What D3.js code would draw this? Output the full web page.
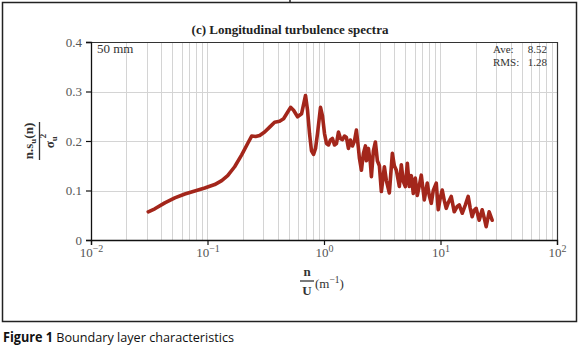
<!DOCTYPE html>
<html><head><meta charset="utf-8">
<script src="https://cdn.jsdelivr.net/npm/d3@7"></script>
<style>body{margin:0;background:#fff;} svg{display:block;}</style>
</head><body>
<svg id="c" width="580" height="351"></svg>
<script>
// ---- data ----
const freq = [0.031,0.0353,0.043,0.0524,0.0639,0.0778,0.0947,0.1153,0.1325,0.149,0.171,0.1965,0.2212,0.2393,0.259,0.2803,0.3093,0.3414,0.3767,0.4158,0.4499,0.4868,0.5166,0.5481,0.593,0.6417,0.694,0.7222,0.7511,0.7812,0.8131,0.8456,0.8797,0.9333,0.971,1.01,1.05,1.093,1.137,1.182,1.23,1.28,1.331,1.385,1.441,1.498,1.558,1.621,1.687,1.754,1.825,1.898,1.975,2.014,2.095,2.179,2.267,2.312,2.405,2.502,2.552,2.655,2.761,2.872,2.988,3.108,3.298,3.43,3.639,3.861,4.016,4.178,4.433,4.611,4.796,4.99,5.191,5.399,5.616,5.842,6.077,6.322,6.577,6.841,7.257,7.699,8.008,8.331,8.667,9.196,9.565,9.952,10.35,10.77,11.2,11.65,12.36,13.12,13.92,14.48,15.36,16.29,17.29,17.98,18.7,19.46,20.24,21.48,22.79,23.7,24.66,26.16,27.75];
const spectrum = [0.057,0.063,0.075,0.085,0.093,0.099,0.105,0.112,0.12,0.13,0.148,0.172,0.195,0.21,0.209,0.211,0.218,0.228,0.238,0.24,0.245,0.258,0.268,0.262,0.249,0.255,0.292,0.262,0.215,0.18,0.173,0.185,0.215,0.268,0.25,0.215,0.195,0.192,0.202,0.205,0.192,0.195,0.218,0.205,0.203,0.21,0.207,0.185,0.202,0.19,0.2,0.222,0.185,0.165,0.141,0.175,0.19,0.16,0.185,0.155,0.128,0.18,0.198,0.16,0.15,0.098,0.148,0.12,0.095,0.175,0.15,0.141,0.108,0.152,0.118,0.108,0.155,0.108,0.13,0.094,0.125,0.09,0.11,0.131,0.081,0.115,0.09,0.074,0.1,0.115,0.061,0.085,0.101,0.08,0.064,0.075,0.088,0.057,0.068,0.071,0.054,0.07,0.088,0.065,0.047,0.06,0.064,0.04,0.061,0.045,0.027,0.057,0.04];
const yTicks = [0, 0.1, 0.2, 0.3, 0.4];
const yTickLabels = ["0", "0.1", "0.2", "0.3", "0.4"];
const xMajor = [0.01, 0.1, 1, 10, 100];
const xExp = ["\u22122", "\u22121", "0", "1", "2"];
const title = "(c) Longitudinal turbulence spectra";
const caseLabel = "50 mm";
const stats = [["Ave:", "8.52"], ["RMS:", "1.28"]];
const caption = ["Figure 1", " Boundary layer characteristics"];

const svg = d3.select("#c");
const L = 91, R = 557, T = 42, B = 240;
const x = d3.scaleLog().domain([0.01, 100]).range([L, R]);
const y = d3.scaleLinear().domain([0, 0.4]).range([B, T]);
const serif = "'Liberation Serif','DejaVu Serif',serif";

// outer frame
svg.append("rect").attr("x", 2.5).attr("y", 2.5).attr("width", 574).attr("height", 319)
  .attr("fill", "none").attr("stroke", "#222").attr("stroke-width", 1.5);
svg.append("line").attr("x1", 290).attr("x2", 290).attr("y1", 0).attr("y2", 2.5)
  .attr("stroke", "#222").attr("stroke-width", 1.5);

// grid
const minor = [];
for (let e = -2; e < 2; e++) for (let k = 1; k <= 9; k++) minor.push(k * Math.pow(10, e));
const g = svg.append("g");
g.selectAll("line.v").data(minor.filter(v => v > 0.01)).join("line")
  .attr("x1", d => Math.round(x(d)) + 0.5).attr("x2", d => Math.round(x(d)) + 0.5)
  .attr("y1", T).attr("y2", B).attr("stroke", "#d4d4d4").attr("stroke-width", 1);
g.selectAll("line.h").data(yTicks.slice(1, 4)).join("line")
  .attr("x1", L).attr("x2", R).attr("y1", d => Math.round(y(d)) + 0.5).attr("y2", d => Math.round(y(d)) + 0.5)
  .attr("stroke", "#d4d4d4").attr("stroke-width", 1);

// plot frame top/right
svg.append("path").attr("d", `M${L},${T + 0.5}H${R + 0.5}V${B}`).attr("fill", "none")
  .attr("stroke", "#333").attr("stroke-width", 1.2);

// axes
const yAx = svg.append("g").attr("transform", `translate(${L},0)`)
  .call(d3.axisLeft(y).tickValues(yTicks).tickSize(5).tickFormat((d, i) => yTickLabels[i]));
yAx.select(".domain").attr("stroke", "#111").attr("stroke-width", 1.3);
yAx.selectAll(".tick line").attr("stroke", "#111").attr("stroke-width", 1.2);
yAx.selectAll("text").attr("font-family", serif).attr("font-size", 13).attr("fill", "#555").attr("dx", -1);

const xAx = svg.append("g").attr("transform", `translate(0,${B})`)
  .call(d3.axisBottom(x).tickValues(xMajor).tickSize(5).tickFormat(() => ""));
xAx.select(".domain").attr("stroke", "#111").attr("stroke-width", 1.3);
xAx.selectAll(".tick line").attr("stroke", "#111").attr("stroke-width", 1.2);
xAx.selectAll(".tick").each(function (d, i) {
  const t = d3.select(this).append("text").attr("y", 17).attr("fill", "#555")
    .attr("font-family", serif).attr("font-size", 13).attr("text-anchor", "middle");
  t.append("tspan").text("10");
  t.append("tspan").attr("dy", -5).attr("font-size", 10).text(xExp[i]);
});

// line
const line = d3.line().x((d, i) => x(freq[i])).y(d => y(d)).curve(d3.curveLinear);
svg.append("path").datum(spectrum).attr("d", line).attr("fill", "none")
  .attr("stroke", "#a3261b").attr("stroke-width", 3.6).attr("stroke-linejoin", "round").attr("stroke-linecap", "round");

// texts
svg.append("text").attr("x", 290).attr("y", 34).attr("text-anchor", "middle")
  .attr("font-family", serif).attr("font-weight", "bold").attr("font-size", 13).attr("fill", "#222").text(title);
svg.append("text").attr("x", 97).attr("y", 53).attr("font-family", serif).attr("font-size", 13)
  .attr("fill", "#333").text(caseLabel);
stats.forEach((s, i) => {
  svg.append("text").attr("x", 493).attr("y", 53 + i * 13).attr("font-family", serif).attr("font-size", 11)
    .attr("fill", "#333").text(s[0]);
  svg.append("text").attr("x", 547).attr("y", 53 + i * 13).attr("text-anchor", "end").attr("font-family", serif)
    .attr("font-size", 11).attr("fill", "#333").text(s[1]);
});

// x-axis title: n/U (m^-1)
const xt = svg.append("g").attr("font-family", serif).attr("font-weight", "bold").attr("fill", "#333");
xt.append("text").attr("x", 307).attr("y", 276).attr("text-anchor", "middle").attr("font-size", 13).text("n");
xt.append("line").attr("x1", 300).attr("x2", 314).attr("y1", 281).attr("y2", 281).attr("stroke", "#333").attr("stroke-width", 1.3);
xt.append("text").attr("x", 307).attr("y", 295).attr("text-anchor", "middle").attr("font-size", 13).text("U");
const mt = xt.append("text").attr("x", 315).attr("y", 288).attr("font-size", 13).attr("font-weight", "normal");
mt.append("tspan").text("(m");
mt.append("tspan").attr("dy", -5).attr("font-size", 9.5).text("\u22121");
mt.append("tspan").attr("dy", 5).text(")");

// y-axis title (rotated fraction)
const yt = svg.append("g").attr("font-family", serif).attr("font-weight", "bold").attr("fill", "#333");
const num = yt.append("text").attr("transform", "translate(33,141) rotate(-90)").attr("text-anchor", "middle").attr("font-size", 13);
num.append("tspan").text("n.s");
num.append("tspan").attr("dy", 3).attr("font-size", 9).text("u");
num.append("tspan").attr("dy", -3).text("(n)");
yt.append("line").attr("x1", 39.5).attr("x2", 39.5).attr("y1", 122).attr("y2", 160).attr("stroke", "#333").attr("stroke-width", 1.3);
const den = yt.append("text").attr("transform", "translate(54,141) rotate(-90)").attr("text-anchor", "middle").attr("font-size", 13);
den.append("tspan").text("\u03c3");
den.append("tspan").attr("dy", 3).attr("font-size", 9).text("u");
den.append("tspan").attr("dy", -11).attr("dx", -2).attr("font-size", 9).text("2");

// caption
const cap = svg.append("text").attr("x", 3).attr("y", 342).attr("font-family", "'Open Sans','Noto Sans',sans-serif")
  .attr("font-size", 13.5).attr("fill", "#111").attr("textLength", 231).attr("lengthAdjust", "spacingAndGlyphs");
cap.append("tspan").attr("font-weight", "bold").text(caption[0]);
cap.append("tspan").text(caption[1]);
</script>
</body></html>
